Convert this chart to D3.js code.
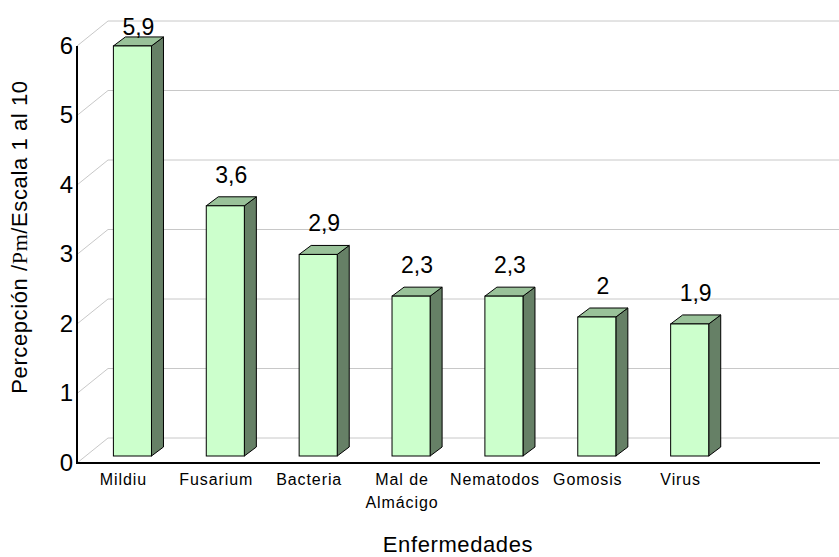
<!DOCTYPE html>
<html>
<head>
<meta charset="utf-8">
<script src="https://cdn.jsdelivr.net/npm/d3@7"></script>
<style>
  body { margin: 0; background: #fff; }
  text { font-family: Arial, "Liberation Sans", sans-serif; fill: #000; }
</style>
</head>
<body>
<div id="chart"></div>
<script>
// Data
const categories = ["Mildiu", "Fusarium", "Bacteria", "Mal de\nAlmácigo", "Nematodos", "Gomosis", "Virus"];
const values = [5.9, 3.6, 2.9, 2.3, 2.3, 2.0, 1.9];
const valueLabels = ["5,9", "3,6", "2,9", "2,3", "2,3", "2", "1,9"];
const yTicks = [0, 1, 2, 3, 4, 5, 6];

const width = 839, height = 557;

// front plane of the 3d box
const x0 = 77, x1 = 820, yBase = 463;
// depth of the back wall and of the bars
const wallDx = 31, wallDy = -25;
const barOx = 9, barOy = -7;     // bar front offset from front plane
const barDx = 12, barDy = -9;    // bar depth

const svg = d3.select("#chart").append("svg")
  .attr("width", width)
  .attr("height", height);

// one empty slot at the end, like the original
const xScale = d3.scaleBand()
  .domain(categories.concat([""]))
  .range([x0, x1])
  .paddingInner(0.59)
  .paddingOuter(0.295);

const yScale = d3.scaleLinear()
  .domain([0, 6])
  .range([yBase, 46]);

// Gridlines: diagonal on the side wall then across the back wall
const grid = svg.append("g");
yTicks.forEach(t => {
  const y = yScale(t);
  grid.append("line")
    .attr("x1", x0).attr("y1", y)
    .attr("x2", x0 + wallDx).attr("y2", y + wallDy)
    .attr("stroke", "#c8c8c8").attr("stroke-width", 1);
  grid.append("line")
    .attr("x1", x0 + wallDx).attr("y1", y + wallDy)
    .attr("x2", width).attr("y2", y + wallDy)
    .attr("stroke", "#c8c8c8").attr("stroke-width", 1);
});

// Bars
const bars = svg.append("g");
categories.forEach((c, i) => {
  const v = values[i];
  const bx = xScale(c) + barOx;
  const bw = xScale.bandwidth();
  const yTop = yScale(v) + barOy;
  const yBot = yScale(0) + barOy;

  // side face
  bars.append("path")
    .attr("d", `M${bx + bw},${yTop} L${bx + bw + barDx},${yTop + barDy} L${bx + bw + barDx},${yBot + barDy} L${bx + bw},${yBot} Z`)
    .attr("fill", "#668066")
    .attr("stroke", "#000").attr("stroke-width", 1);

  // top face
  bars.append("path")
    .attr("d", `M${bx},${yTop} L${bx + barDx},${yTop + barDy} L${bx + bw + barDx},${yTop + barDy} L${bx + bw},${yTop} Z`)
    .attr("fill", "#99c299")
    .attr("stroke", "#000").attr("stroke-width", 1);

  // front face
  bars.append("rect")
    .attr("x", bx).attr("y", yTop)
    .attr("width", bw).attr("height", yBot - yTop)
    .attr("fill", "#ccffcc")
    .attr("stroke", "#000").attr("stroke-width", 1);

  // value label above the bar, kept inside the plot
  bars.append("text")
    .attr("x", bx + bw / 2 + barDx / 2)
    .attr("y", Math.max(35, yTop + barDy - 14))
    .attr("text-anchor", "middle")
    .attr("font-size", 23)
    .text(valueLabels[i]);
});

// Axes (front plane)
svg.append("line")
  .attr("x1", x0).attr("y1", yScale(6))
  .attr("x2", x0).attr("y2", yBase)
  .attr("stroke", "#000").attr("stroke-width", 2);
svg.append("line")
  .attr("x1", x0 - 1).attr("y1", yBase)
  .attr("x2", x1).attr("y2", yBase)
  .attr("stroke", "#000").attr("stroke-width", 2);

// Y tick labels
svg.append("g").selectAll("text")
  .data(yTicks)
  .enter().append("text")
  .attr("x", 73)
  .attr("y", d => yScale(d))
  .attr("dy", "0.33em")
  .attr("text-anchor", "end")
  .attr("font-size", 24)
  .text(d => d);

// Category labels
const catG = svg.append("g");
categories.forEach(c => {
  const t = catG.append("text")
    .attr("x", xScale(c) + xScale.bandwidth() / 2)
    .attr("y", 485)
    .attr("text-anchor", "middle")
    .attr("font-size", 16)
    .attr("letter-spacing", 0.9);
  c.split("\n").forEach((line, k) => {
    t.append("tspan")
      .attr("x", xScale(c) + xScale.bandwidth() / 2)
      .attr("dy", k === 0 ? 0 : 23)
      .text(line);
  });
});

// Axis titles
svg.append("text")
  .attr("x", 458)
  .attr("y", 552)
  .attr("text-anchor", "middle")
  .attr("font-size", 22)
  .attr("letter-spacing", 0.6)
  .text("Enfermedades");

const yTitle = svg.append("text")
  .attr("transform", "translate(27,237) rotate(-90)")
  .attr("text-anchor", "middle")
  .attr("font-size", 22)
  .attr("letter-spacing", 0.6);
yTitle.append("tspan").text("Percepción /");
yTitle.append("tspan")
  .style("font-family", "'Times New Roman', 'Liberation Serif', serif")
  .text("Pm");
yTitle.append("tspan").text("/Escala 1 al 10");
</script>
</body>
</html>
